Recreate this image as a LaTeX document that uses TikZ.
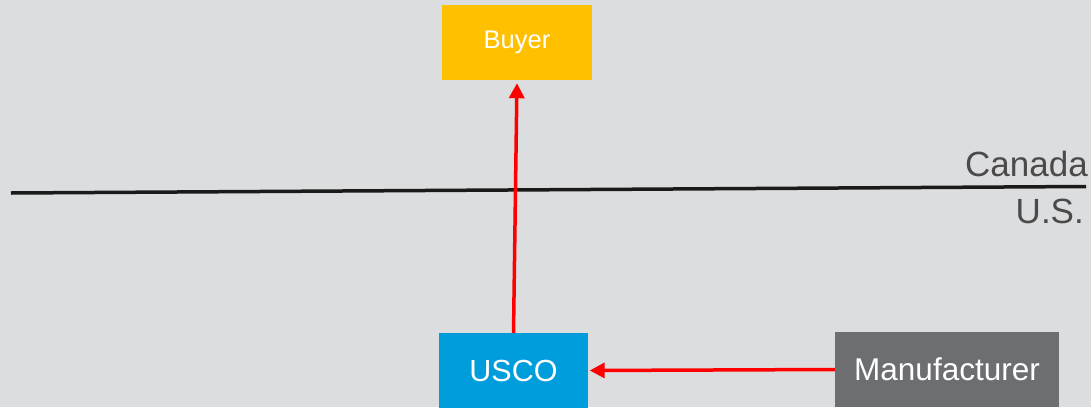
\documentclass[tikz,border=0pt]{standalone}
\usepackage{fontspec}
\setmainfont{Liberation Sans}
\usetikzlibrary{arrows.meta}
\definecolor{bg}{HTML}{DCDDDF}
\definecolor{buyercol}{HTML}{FFC000}
\definecolor{uscocol}{HTML}{009DDC}
\definecolor{mancol}{HTML}{6D6E71}
\definecolor{labelcol}{HTML}{4A4A4A}
\definecolor{linecol}{HTML}{1A1A1A}
\definecolor{arrowred}{HTML}{FF0000}
\tikzset{
  box/.style={draw=none, minimum height=75pt, inner sep=0pt, text=white},
  flow/.style={draw=arrowred, line width=3.5pt, -{Triangle[length=15pt,width=15pt]}},
  border/.style={draw=linecol, line width=3.5pt},
  country/.style={text=labelcol, font=\fontsize{35}{40}\selectfont, inner sep=0pt, anchor=base east}
}
\begin{document}
\begin{tikzpicture}[x=1pt,y=-1pt]
\fill[bg] (0,0) rectangle (1091,407);
\useasboundingbox (0,0) rectangle (1091,407);
\coordinate (bl) at (11,193);
\coordinate (br) at (1086,186.5);
\draw[border] (bl) -- (br);
\node[box, fill=buyercol, minimum width=150pt, font=\fontsize{25.5}{30}\selectfont] (buyer) at (517,42.5) {Buyer};
\node[box, fill=uscocol, minimum width=149pt, font=\fontsize{30.5}{36}\selectfont] (usco) at (513.5,370.5) {USCO};
\node[box, fill=mancol, minimum width=224pt, font=\fontsize{31.5}{36}\selectfont] (manuf) at (947,369.5) {Manufacturer};
\node[country] (canada) at (1088,176) {Canada};
\node[country] (us) at (1084,223) {U.S.};
\draw[flow, shorten >=3pt] (usco.north) -- (buyer.south);
\draw[flow, shorten >=1.5pt] (manuf.west) -- (usco.east);
\end{tikzpicture}
\end{document}
